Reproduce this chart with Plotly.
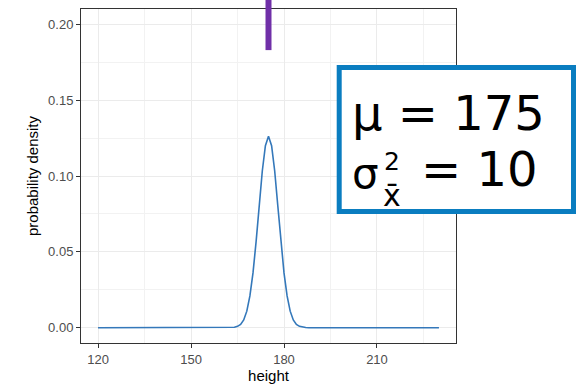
import plotly.graph_objects as go

# Data
height = [120, 162, 163, 164, 165, 166, 167, 168, 169, 170, 171, 172, 173, 174,
          175, 176, 177, 178, 179, 180, 181, 182, 183, 184, 185, 186, 187, 188, 230]
density = [0.0, 0.0, 0.0001, 0.0003, 0.0009, 0.0022, 0.0051, 0.0109, 0.0209, 0.0361,
           0.0567, 0.0804, 0.1033, 0.1200, 0.1262, 0.1200, 0.1033, 0.0804, 0.0567,
           0.0361, 0.0209, 0.0109, 0.0051, 0.0022, 0.0009, 0.0003, 0.0001, 0.0, 0.0]
mu = 175
mu_bar_bottom = 0.183
x_ticks = [120, 150, 180, 210]
y_ticks = [0.00, 0.05, 0.10, 0.15, 0.20]
y_ticklabels = ["0.00", "0.05", "0.10", "0.15", "0.20"]
label_mu = "μ = 175"
label_var_val = "= 10"

XR = [114.5, 235.5]
YR = [-0.0101, 0.2101]

W, H = 588, 385
ML, MR, MT, MB = 81, 132, 9, 42
PW, PH = W - ML - MR, H - MT - MB


def px(x):
    return (x - ML) / PW


def py(y):
    return (H - MB - y) / PH


fig = go.Figure()
fig.add_trace(go.Scatter(x=height, y=density, mode="lines",
                         line=dict(color="#3478BA", width=1.6),
                         showlegend=False, hoverinfo="skip"))

axis_common = dict(
    showline=True, mirror=True, linecolor="#333333", linewidth=1,
    ticks="outside", ticklen=4, tickcolor="#333333", tickwidth=1,
    gridcolor="#EBEBEB", gridwidth=1, zeroline=False,
    tickfont=dict(family="Liberation Sans, Arial", size=13, color="#4D4D4D"),
)

fig.update_xaxes(range=XR, tickvals=x_ticks, **axis_common,
                 minor=dict(tickvals=[135, 165, 195, 225], showgrid=True,
                            gridcolor="#F2F2F2", gridwidth=1, ticks=""),
                 title=dict(text="height", standoff=3,
                            font=dict(family="Liberation Sans, Arial", size=15, color="#000000")))
fig.update_yaxes(range=YR, tickvals=y_ticks, ticktext=y_ticklabels, **axis_common,
                 minor=dict(tickvals=[0.025, 0.075, 0.125, 0.175], showgrid=True,
                            gridcolor="#F2F2F2", gridwidth=1, ticks=""),
                 title=dict(text="probability density", standoff=5,
                            font=dict(family="Liberation Sans, Arial", size=15, color="#000000")))

# purple bar at mu
y0 = (mu_bar_bottom - YR[0]) / (YR[1] - YR[0])
fig.add_shape(type="line", xref="x", yref="paper", x0=mu, x1=mu, y0=y0, y1=1.2,
              line=dict(color="#7030A8", width=6), layer="above")

# label box
fig.add_shape(type="rect", xref="paper", yref="paper",
              x0=px(339.2), x1=px(573.5), y0=py(67.5), y1=py(211.5),
              line=dict(color="#0A7DC0", width=5), fillcolor="white", layer="above")

FONT = "DejaVu Sans"
fig.add_annotation(xref="paper", yref="paper", x=px(350), y=py(113), xanchor="left",
                   yanchor="middle", text=label_mu, showarrow=False,
                   font=dict(family=FONT, size=48, color="black"))
fig.add_annotation(xref="paper", yref="paper", x=px(350), y=py(173), xanchor="left",
                   yanchor="middle", text="σ", showarrow=False,
                   font=dict(family=FONT, size=42, color="black"))
fig.add_annotation(xref="paper", yref="paper", x=px(391.5), y=py(161), xanchor="center",
                   yanchor="middle", text="2", showarrow=False,
                   font=dict(family=FONT, size=25, color="black"))
fig.add_annotation(xref="paper", yref="paper", x=px(391.5), y=py(195), xanchor="center",
                   yanchor="middle", text="x̄", showarrow=False,
                   font=dict(family=FONT, size=30, color="black"))
fig.add_annotation(xref="paper", yref="paper", x=px(419), y=py(169), xanchor="left",
                   yanchor="middle", text=label_var_val, showarrow=False,
                   font=dict(family=FONT, size=48, color="black"))

fig.update_layout(width=W, height=H, margin=dict(l=ML, r=MR, t=MT, b=MB, autoexpand=False),
                  plot_bgcolor="white", paper_bgcolor="white")

fig.write_html("out.html")
